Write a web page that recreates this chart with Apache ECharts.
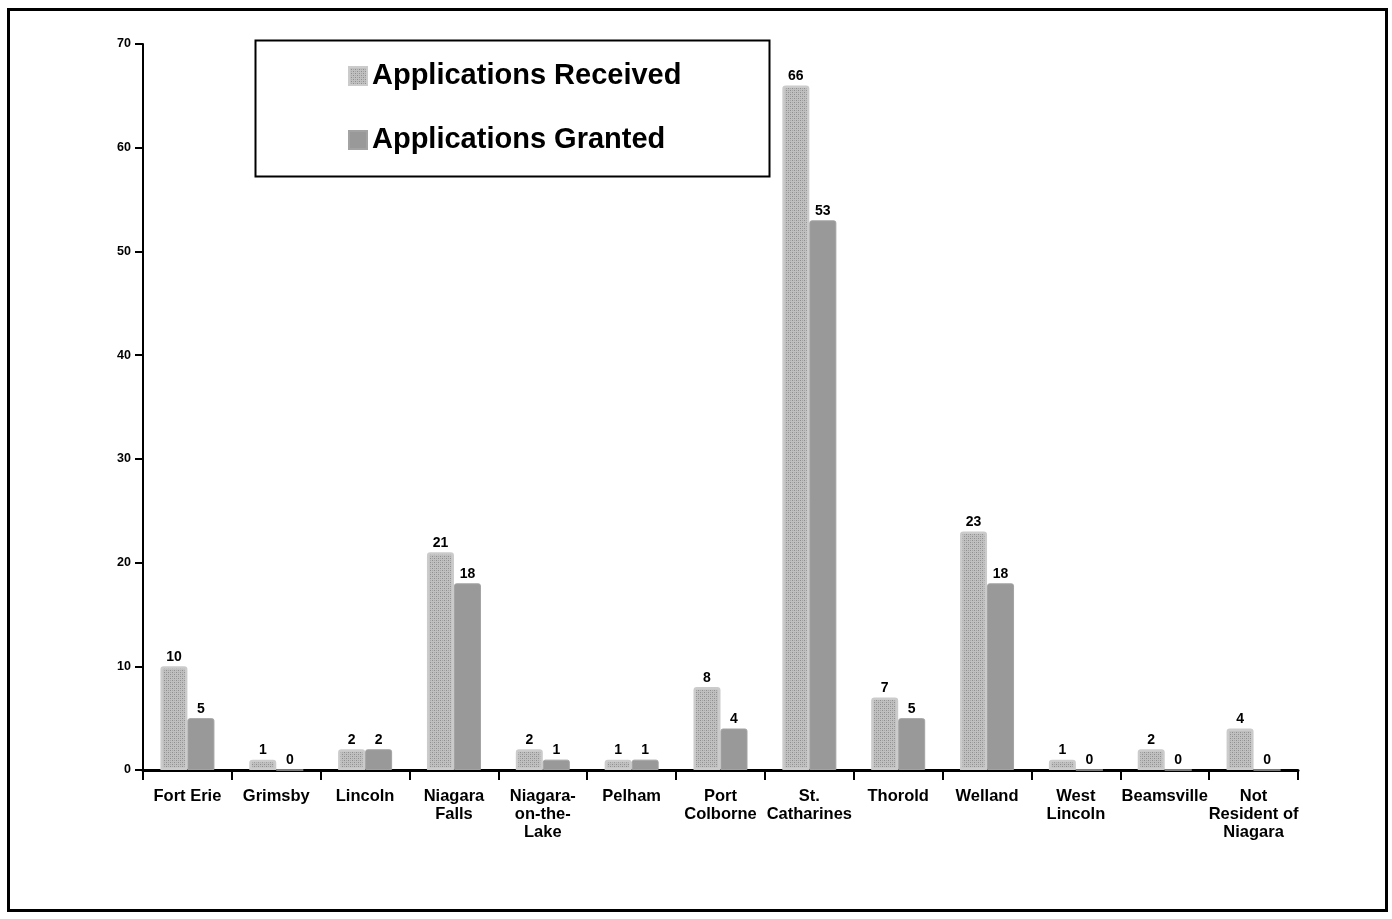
<!DOCTYPE html>
<html>
<head>
<meta charset="utf-8">
<style>
  html, body { margin: 0; padding: 0; background: #fff; }
  #chart { width: 1392px; height: 919px; }
</style>
<script src="https://cdn.jsdelivr.net/npm/echarts@6/dist/echarts.min.js"></script>
</head>
<body>
<div id="chart"></div>
<script>
// Municipalities (category axis labels, line breaks as printed)
const categories = [
  'Fort Erie', 'Grimsby', 'Lincoln', 'Niagara\nFalls', 'Niagara-\non-the-\nLake',
  'Pelham', 'Port\nColborne', 'St.\nCatharines', 'Thorold', 'Welland',
  'West\nLincoln', 'Beamsville', 'Not\nResident of\nNiagara'
];
const received = [10, 1, 2, 21, 2, 1, 8, 66, 7, 23, 1, 2, 4];
const granted  = [5, 0, 2, 18, 1, 1, 4, 53, 5, 18, 0, 0, 0];
const yTicks = [0, 10, 20, 30, 40, 50, 60, 70];

const FONT = '"Liberation Sans", Arial, sans-serif';

// Fine dotted texture for the "received" bars
function makeDots() {
  const c = document.createElement('canvas');
  c.width = 4; c.height = 4;
  const g = c.getContext('2d');
  g.fillStyle = '#c0c0c0';
  g.fillRect(0, 0, 4, 4);
  g.fillStyle = '#8e8e8e';
  g.fillRect(0, 0, 1, 1);
  g.fillRect(2, 2, 1, 1);
  g.fillStyle = '#a6a6a6';
  g.fillRect(2, 0, 1, 1);
  g.fillRect(0, 2, 1, 1);
  return c;
}
const dotFill = { image: makeDots(), repeat: 'repeat' };

const chart = echarts.init(document.getElementById('chart'), null, { renderer: 'canvas' });

const valueLabel = {
  show: true,
  position: 'top',
  distance: 2,
  color: '#000',
  fontFamily: FONT,
  fontWeight: 'bold',
  fontSize: 14
};

chart.setOption({
  animation: false,
  backgroundColor: '#fff',
  grid: { left: 143, right: 94, top: 44, bottom: 149, containLabel: false },
  legend: {
    orient: 'vertical',
    left: 343,
    top: 55,
    itemWidth: 18,
    itemHeight: 18,
    itemGap: 32,
    icon: 'rect',
    textStyle: {
      fontFamily: FONT, fontWeight: 'bold', fontSize: 29, color: '#000', lineHeight: 32
    },
    data: ['Applications Received', 'Applications Granted']
  },
  xAxis: {
    type: 'category',
    data: categories,
    axisLine: { lineStyle: { color: '#000', width: 3 } },
    axisTick: { show: true, length: 10, interval: 0, lineStyle: { color: '#000', width: 2 } },
    axisLabel: {
      interval: 0,
      margin: 17,
      color: '#000',
      fontFamily: FONT,
      fontWeight: 'bold',
      fontSize: 16.5,
      lineHeight: 18
    },
    splitLine: { show: false }
  },
  yAxis: {
    type: 'value',
    min: yTicks[0],
    max: yTicks[yTicks.length - 1],
    interval: 10,
    axisLine: { show: true, lineStyle: { color: '#000', width: 2 } },
    axisTick: { show: true, length: 8, lineStyle: { color: '#000', width: 2 } },
    axisLabel: {
      margin: 12,
      color: '#000',
      fontFamily: FONT,
      fontWeight: 'bold',
      fontSize: 12.5
    },
    splitLine: { show: false }
  },
  series: [
    {
      name: 'Applications Received',
      type: 'bar',
      data: received,
      barWidth: 27,
      barGap: '0%',
      itemStyle: {
        color: dotFill,
        borderColor: '#cbcbcb',
        borderWidth: 2.5,
        borderRadius: [2, 2, 0, 0]
      },
      label: valueLabel
    },
    {
      name: 'Applications Granted',
      type: 'bar',
      data: granted,
      barWidth: 27,
      itemStyle: {
        color: '#999999',
        borderColor: '#a3a3a3',
        borderWidth: 1,
        borderRadius: [2, 2, 0, 0]
      },
      label: valueLabel
    }
  ],
  graphic: [
    {
      type: 'rect',
      silent: true,
      shape: { x: 8.5, y: 9.5, width: 1378, height: 901 },
      style: { fill: 'none', stroke: '#000', lineWidth: 3 }
    },
    {
      type: 'rect',
      silent: true,
      shape: { x: 255.5, y: 40.5, width: 514, height: 136 },
      style: { fill: 'none', stroke: '#000', lineWidth: 2 }
    }
  ]
});
</script>
</body>
</html>
